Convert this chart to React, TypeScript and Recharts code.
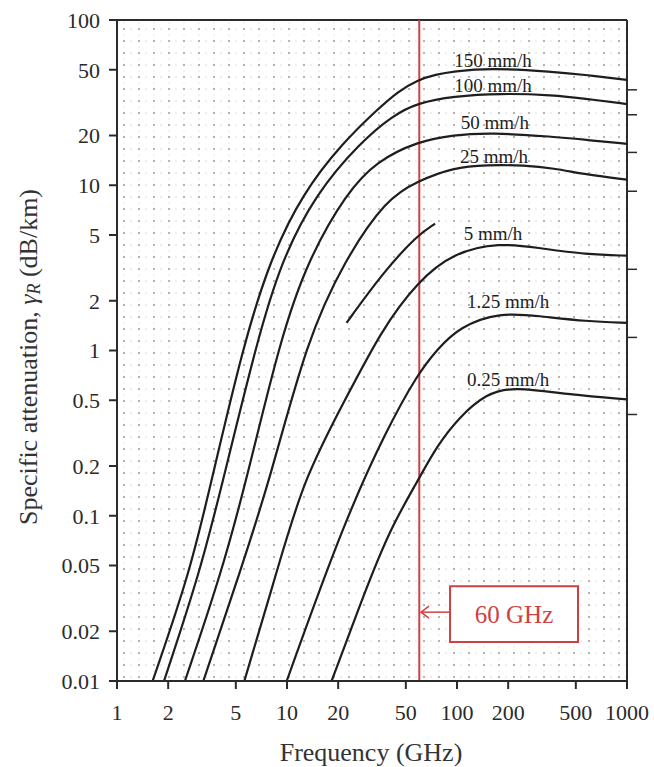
import React from 'react';
import {
  LineChart, Line, XAxis, YAxis, ReferenceLine, ReferenceArea, ReferenceDot,
} from 'recharts';

type point = {
  f: number,
  a: number,
}

const freqTicks = [1, 2, 5, 10, 20, 50, 100, 200, 500, 1000];
const attenTicks = [0.01, 0.02, 0.05, 0.1, 0.2, 0.5, 1, 2, 5, 10, 20, 50, 100];
const rightMarks = [37.8, 26.7, 15.8, 9.2, 3.1, 1.2, 0.41];

const rain150: point[] = [
  { f: 1.62, a: 0.01 }, { f: 2.69, a: 0.0456 }, { f: 3.61, a: 0.166 }, { f: 5.5, a: 1.05 },
  { f: 7.94, a: 3.55 }, { f: 12.4, a: 9.0 }, { f: 21.3, a: 18.1 }, { f: 33.8, a: 28.6 },
  { f: 45, a: 37 }, { f: 58.7, a: 43.4 }, { f: 75, a: 46.8 }, { f: 95, a: 48.9 },
  { f: 156, a: 51.3 }, { f: 367, a: 48.7 }, { f: 580, a: 46.5 }, { f: 1000, a: 43.4 },
];
const rain100: point[] = [
  { f: 1.89, a: 0.01 }, { f: 3.08, a: 0.0456 }, { f: 4.22, a: 0.166 }, { f: 6.6, a: 1.1 },
  { f: 9.3, a: 3.55 }, { f: 14.9, a: 9.0 }, { f: 26.9, a: 18.1 }, { f: 42, a: 26.5 },
  { f: 58.7, a: 31.5 }, { f: 95, a: 34.6 }, { f: 180, a: 36.0 }, { f: 367, a: 35.2 },
  { f: 580, a: 33.3 }, { f: 1000, a: 31.0 },
];
const rain50: point[] = [
  { f: 2.51, a: 0.01 }, { f: 4.13, a: 0.0456 }, { f: 5.79, a: 0.166 }, { f: 9.1, a: 1.16 },
  { f: 13.3, a: 3.55 }, { f: 22.4, a: 9.0 }, { f: 33.7, a: 14.0 }, { f: 58.7, a: 18.4 },
  { f: 95, a: 20.2 }, { f: 160, a: 20.8 }, { f: 367, a: 19.7 }, { f: 580, a: 18.8 },
  { f: 1000, a: 17.8 },
];
const rain25: point[] = [
  { f: 3.22, a: 0.01 }, { f: 5.29, a: 0.0456 }, { f: 7.94, a: 0.166 }, { f: 13.1, a: 1.16 },
  { f: 21.9, a: 3.55 }, { f: 38.6, a: 8.3 }, { f: 58.7, a: 10.6 }, { f: 95, a: 12.8 },
  { f: 150, a: 13.3 }, { f: 250, a: 13.2 }, { f: 367, a: 12.7 }, { f: 580, a: 11.6 },
  { f: 1000, a: 10.8 },
];
const rainSegment: point[] = [
  { f: 22.4, a: 1.47 }, { f: 36.7, a: 2.96 }, { f: 58.7, a: 5.02 }, { f: 74.3, a: 5.85 },
];
const rain5: point[] = [
  { f: 5.61, a: 0.01 }, { f: 8.7, a: 0.0456 }, { f: 12.5, a: 0.166 }, { f: 21.9, a: 0.5 },
  { f: 36.1, a: 1.34 }, { f: 58.7, a: 2.61 }, { f: 95, a: 3.91 }, { f: 179, a: 4.49 },
  { f: 294, a: 4.19 }, { f: 580, a: 3.8 }, { f: 1000, a: 3.75 },
];
const rain125: point[] = [
  { f: 9.96, a: 0.01 }, { f: 21.5, a: 0.09 }, { f: 38.6, a: 0.333 }, { f: 58.7, a: 0.72 },
  { f: 76, a: 1.01 }, { f: 104, a: 1.4 }, { f: 179, a: 1.7 }, { f: 300, a: 1.62 },
  { f: 580, a: 1.5 }, { f: 1000, a: 1.47 },
];
const rain025: point[] = [
  { f: 18.3, a: 0.01 }, { f: 28.1, a: 0.0328 }, { f: 40.4, a: 0.0834 }, { f: 58.7, a: 0.162 },
  { f: 76, a: 0.264 }, { f: 104, a: 0.4 }, { f: 150, a: 0.55 }, { f: 214, a: 0.605 },
  { f: 462, a: 0.54 }, { f: 1000, a: 0.506 },
];

const curves = [rain150, rain100, rain50, rain25, rainSegment, rain5, rain125, rain025];

const curveLabels = ['150 mm/h', '100 mm/h', '50 mm/h', '25 mm/h', '5 mm/h', '1.25 mm/h', '0.25 mm/h'];
const labelFreq = [163, 163, 167, 165, 163, 200, 200];
const labelAtten = [57.3, 40.5, 24.2, 14.9, 5.09, 1.98, 0.668];

const markFreq = 60;
const boxFreq = [91, 515];
const boxAtten = [0.0172, 0.0375];
const arrowFreq = [91, 61.4];
const arrowAtten = 0.0261;

const serif = "'Liberation Serif', 'Times New Roman', serif";
const ink = '#1e1e1e';
const red = '#d04040';

const ArrowShape = (props: any) => {
  const { x1, y1, x2, y2 } = props;
  const hx = Math.min(x1, x2);
  const tx = Math.max(x1, x2);
  return (
    <g>
      <line x1={tx} y1={y1} x2={hx} y2={y2} stroke={red} strokeWidth={1.5} />
      <polyline points={`${hx + 8},${y2 - 6} ${hx},${y2} ${hx + 8},${y2 + 6}`} fill="none" stroke={red} strokeWidth={1.5} />
    </g>
  );
};

const YTitle = () => (
  <text
    transform="translate(28,357) rotate(-90)"
    textAnchor="middle"
    dominantBaseline="central"
    fontFamily={serif}
    fontSize={26}
    fill="#333"
  >
    Specific attenuation,
    {' '}
    <tspan fontStyle="italic">γ</tspan>
    <tspan fontStyle="italic" fontSize={18} dy={6}>R</tspan>
    <tspan dy={-6}> (dB/km)</tspan>
  </text>
);

const XTitle = () => (
  <text x={371} y={752} textAnchor="middle" dominantBaseline="central" fontFamily={serif} fontSize={26} fill="#333">
    Frequency (GHz)
  </text>
);

const App = () => (
  <div style={{ position: 'absolute', left: 0, top: 0 }}>
    <LineChart
      width={654}
      height={767}
      margin={{
        top: 20, right: 12, bottom: 26, left: 17,
      }}
    >
      <defs>
        <pattern id="dots" x="0" y="0" width="15" height="12" patternUnits="userSpaceOnUse">
          <circle cx="4" cy="5" r="0.9" fill="#8f8f8f" />
          <circle cx="11" cy="5" r="0.6" fill="#b0b0b0" />
          <circle cx="4" cy="11" r="0.5" fill="#c0c0c0" />
        </pattern>
      </defs>
      <XAxis
        dataKey="f"
        type="number"
        scale="log"
        domain={[1, 1000]}
        ticks={freqTicks}
        allowDataOverflow
        height={60}
        tickSize={8}
        tickMargin={15}
        stroke="#2b2b2b"
        strokeWidth={2}
        tick={{ fill: '#2a2a2a', fontSize: 22, fontFamily: serif }}
        label={{ content: () => <XTitle /> }}
      />
      <YAxis
        yAxisId="left"
        type="number"
        scale="log"
        domain={[0.01, 100]}
        ticks={attenTicks}
        allowDataOverflow
        width={100}
        tickSize={8}
        tickMargin={9}
        stroke="#2b2b2b"
        strokeWidth={2}
        tick={{ fill: '#2a2a2a', fontSize: 22, fontFamily: serif }}
        label={{ content: () => <YTitle /> }}
      />
      <YAxis
        yAxisId="right"
        orientation="right"
        type="number"
        scale="log"
        domain={[0.01, 100]}
        ticks={rightMarks}
        allowDataOverflow
        width={15}
        axisLine={false}
        tickFormatter={() => ''}
        tickSize={10}
        tickLine={{ stroke: '#2b2b2b', strokeWidth: 1.5 }}
      />
      <ReferenceArea yAxisId="left" x1={1} x2={1000} y1={0.01} y2={100} fill="url(#dots)" fillOpacity={1} stroke="none" />
      <ReferenceLine yAxisId="left" y={100} stroke="#2b2b2b" strokeWidth={2} />
      <ReferenceLine yAxisId="left" x={1000} stroke="#2b2b2b" strokeWidth={2} />
      <ReferenceLine yAxisId="left" x={markFreq} stroke={red} strokeWidth={2} />
      <ReferenceArea
        yAxisId="left"
        x1={boxFreq[0]}
        x2={boxFreq[1]}
        y1={boxAtten[0]}
        y2={boxAtten[1]}
        fill="#ffffff"
        fillOpacity={1}
        stroke={red}
        strokeWidth={2}
        label={{
          value: '60 GHz', position: 'center', fill: red, fontSize: 25, fontFamily: serif,
        }}
      />
      <ReferenceLine
        yAxisId="left"
        segment={[{ x: arrowFreq[0], y: arrowAtten }, { x: arrowFreq[1], y: arrowAtten }]}
        shape={ArrowShape}
      />
      {curves.map((c, i) => (
        <Line
          key={i}
          yAxisId="left"
          data={c}
          dataKey="a"
          type="basis"
          dot={false}
          stroke={ink}
          strokeWidth={2.2}
          isAnimationActive={false}
        />
      ))}
      {curveLabels.map((t, i) => (
        <ReferenceDot
          key={t}
          yAxisId="left"
          x={labelFreq[i]}
          y={labelAtten[i]}
          r={0}
          fill="none"
          stroke="none"
          label={{
            value: t, position: 'center', fill: ink, fontSize: 19, fontFamily: serif,
          }}
        />
      ))}
    </LineChart>
  </div>
);

export default App;
